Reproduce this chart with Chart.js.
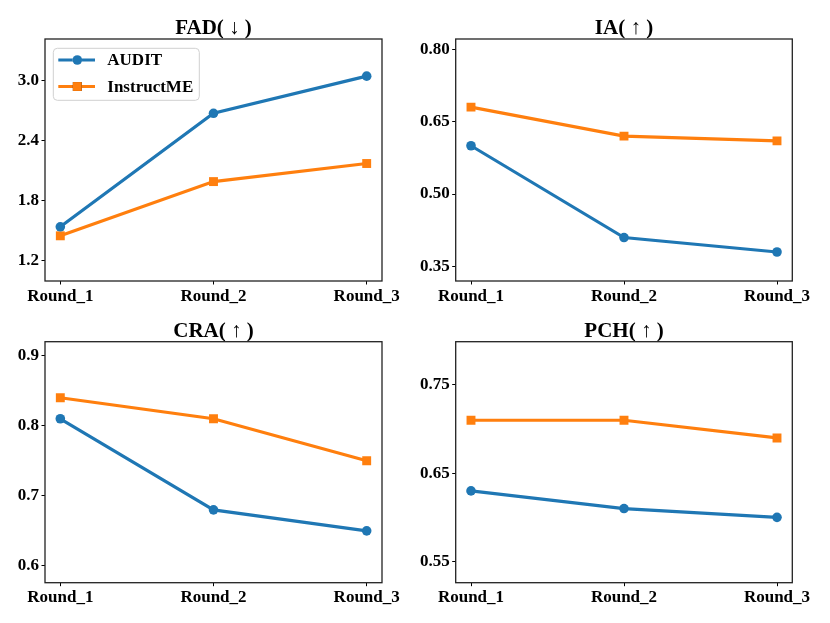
<!DOCTYPE html>
<html>
<head>
<meta charset="utf-8">
<script src="https://cdn.jsdelivr.net/npm/chart.js@4.4.1/dist/chart.umd.min.js"></script>
<style>
  html, body { margin: 0; padding: 0; background: #fff; }
  #wrap { position: relative; width: 830px; height: 623px; }
  .panel { position: absolute; }
</style>
</head>
<body>
<div id="wrap">
  <div class="panel" style="left:0;top:0;width:415px;height:310px"><canvas id="fad"></canvas></div>
  <div class="panel" style="left:415px;top:0;width:415px;height:310px"><canvas id="ia"></canvas></div>
  <div class="panel" style="left:0;top:310px;width:415px;height:313px"><canvas id="cra"></canvas></div>
  <div class="panel" style="left:415px;top:310px;width:415px;height:313px"><canvas id="pch"></canvas></div>
</div>
<script>
const rounds = ['Round_1', 'Round_2', 'Round_3'];
const seriesNames = ['AUDIT', 'InstructME'];

const fadAudit = [1.54, 2.67, 3.04];
const fadInstructME = [1.45, 1.99, 2.17];
const iaAudit = [0.60, 0.41, 0.38];
const iaInstructME = [0.68, 0.62, 0.61];
const craAudit = [0.81, 0.68, 0.65];
const craInstructME = [0.84, 0.81, 0.75];
const pchAudit = [0.63, 0.61, 0.60];
const pchInstructME = [0.71, 0.71, 0.69];

const fadTicks = ['1.2', '1.8', '2.4', '3.0'];
const iaTicks = ['0.35', '0.50', '0.65', '0.80'];
const craTicks = ['0.6', '0.7', '0.8', '0.9'];
const pchTicks = ['0.55', '0.65', '0.75'];

const BLUE = '#1f77b4';
const ORANGE = '#ff7f0e';

Chart.defaults.font.family = "'Liberation Serif', 'Times New Roman', serif";
Chart.defaults.font.weight = 'bold';
Chart.defaults.font.size = 17;
Chart.defaults.color = '#000';

// black box around the plot area, like matplotlib spines
const framePlugin = {
  id: 'frame',
  afterDatasetsDraw(chart) {
    const a = chart.chartArea;
    const ctx = chart.ctx;
    ctx.save();
    ctx.strokeStyle = '#222';
    ctx.lineWidth = 1.3;
    ctx.strokeRect(a.left, a.top, a.right - a.left, a.bottom - a.top);
    ctx.restore();
  }
};

// legend box in the upper left of the plot area
const boxLegend = {
  id: 'boxLegend',
  afterDraw(chart, args, opts) {
    if (!opts.show) return;
    const a = chart.chartArea;
    const ctx = chart.ctx;
    const x0 = a.left + 8.3, y0 = a.top + 9.3, w = 146, h = 52;
    ctx.save();
    ctx.fillStyle = 'rgba(255,255,255,0.8)';
    ctx.strokeStyle = '#d0d0d0';
    ctx.lineWidth = 1;
    ctx.beginPath();
    ctx.roundRect(x0, y0, w, h, 4);
    ctx.fill();
    ctx.stroke();
    chart.data.datasets.forEach((ds, i) => {
      const y = y0 + 11.7 + i * 26.5;
      ctx.strokeStyle = ds.borderColor;
      ctx.lineWidth = ds.borderWidth;
      ctx.beginPath();
      ctx.moveTo(x0 + 5, y);
      ctx.lineTo(x0 + 41.7, y);
      ctx.stroke();
      Chart.helpers.drawPoint(ctx, {
        pointStyle: ds.pointStyle, radius: ds.pointRadius, rotation: 0, borderWidth: 0
      }, x0 + 24, y);
      ctx.fillStyle = ds.backgroundColor;
      ctx.fill();
      ctx.fillStyle = '#000';
      ctx.font = "bold 17px 'Liberation Serif', 'Times New Roman', serif";
      ctx.textBaseline = 'middle';
      ctx.textAlign = 'left';
      ctx.fillText(ds.label, x0 + 54, y + 1);
    });
    ctx.restore();
  }
};

function makeChart(id, title, audit, instruct, ticks, yMin, yMax, box) {
  const ctx = document.getElementById(id).getContext('2d');
  new Chart(ctx, {
    type: 'line',
    data: {
      datasets: [{
        label: seriesNames[0],
        data: audit.map((v, i) => ({ x: i, y: v })),
        borderColor: BLUE,
        backgroundColor: BLUE,
        borderWidth: 3.2,
        pointStyle: 'circle',
        pointRadius: 4.8,
        pointBorderWidth: 0,
        tension: 0
      }, {
        label: seriesNames[1],
        data: instruct.map((v, i) => ({ x: i, y: v })),
        borderColor: ORANGE,
        backgroundColor: ORANGE,
        borderWidth: 3.2,
        pointStyle: 'rect',
        pointRadius: 6.3,
        pointBorderWidth: 0,
        tension: 0
      }]
    },
    options: {
      responsive: true,
      maintainAspectRatio: false,
      animation: false,
      layout: { padding: { left: 0, right: box.padRight, top: 0, bottom: 0 } },
      plugins: {
        legend: { display: false },
        tooltip: { enabled: false },
        title: {
          display: true,
          text: title,
          fullSize: false,
          color: '#000',
          font: { size: 21, weight: 'bold', lineHeight: 1 },
          padding: { top: box.titleTop, bottom: box.titleBottom }
        },
        boxLegend: { show: !!box.legend }
      },
      scales: {
        x: {
          type: 'linear',
          min: -0.1,
          max: 2.1,
          afterBuildTicks: s => { s.ticks = rounds.map((_, i) => ({ value: i })); },
          afterFit: s => { s.height = box.xH; },
          grid: { drawOnChartArea: false, drawTicks: true, tickLength: 3.5, color: '#000' },
          border: { display: false },
          ticks: {
            autoSkip: false, maxRotation: 0, padding: 1.5,
            callback: v => rounds[v]
          }
        },
        y: {
          type: 'linear',
          min: yMin,
          max: yMax,
          afterBuildTicks: s => { s.ticks = ticks.map(t => ({ value: parseFloat(t) })); },
          afterFit: s => { s.width = box.yW; },
          grid: { drawOnChartArea: false, drawTicks: true, tickLength: 3.5, color: '#000' },
          border: { display: false },
          ticks: {
            autoSkip: false, padding: 2.5,
            callback: (v, i) => ticks[i]
          }
        }
      }
    },
    plugins: [framePlugin, boxLegend]
  });
}

makeChart('fad', 'FAD( \u2193 )', fadAudit, fadInstructME, fadTicks, 1.0, 3.41,
  { yW: 45, xH: 29, padRight: 33, titleTop: 18, titleBottom: 0, legend: true });
makeChart('ia', 'IA( \u2191 )', iaAudit, iaInstructME, iaTicks, 0.32, 0.821,
  { yW: 40.7, xH: 29, padRight: 37.7, titleTop: 18, titleBottom: 0 });
makeChart('cra', 'CRA( \u2191 )', craAudit, craInstructME, craTicks, 0.576, 0.92,
  { yW: 45, xH: 40.3, padRight: 33, titleTop: 10.7, titleBottom: 0 });
makeChart('pch', 'PCH( \u2191 )', pchAudit, pchInstructME, pchTicks, 0.526, 0.799,
  { yW: 40.7, xH: 40.3, padRight: 37.7, titleTop: 10.7, titleBottom: 0 });
</script>
</body>
</html>
